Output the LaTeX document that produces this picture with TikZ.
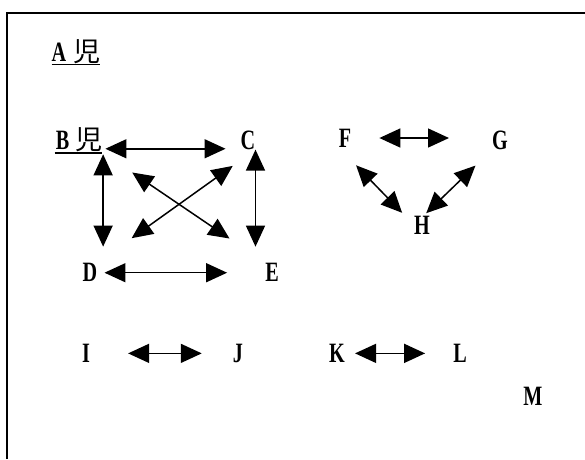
\documentclass[tikz,border=0pt]{standalone}
\usepackage{fontspec, graphicx}
\setmainfont{Liberation Serif}
\newfontfamily\jpfont{Noto Sans CJK JP}
\usetikzlibrary{arrows.meta}
\newcommand{\ltr}[1]{\scalebox{0.72}[1]{\bfseries #1}}
\newcommand{\ji}{{\jpfont\fontsize{27}{29}\selectfont 児}}

\begin{document}
\begin{tikzpicture}[scale=0.3515]
	\tikzstyle{every node}+=[inner sep=0pt, font=\fontsize{28}{30}\selectfont]
	\tikzstyle{dbl}=[black, line width=1.5pt, {Triangle[length=21pt,width=19pt]}-{Triangle[length=21pt,width=19pt]}]
	\useasboundingbox (0,0) rectangle (58.5,-45.9);
	% frame
	\draw [black, line width=1.4pt] (0.7,-45.9) -- (0.7,-1.3) -- (58.5,-1.3);
	% nodes
	\node (A) at (7.6,-5.15) {\ltr{A}\hspace{7pt}\ji};
	\node (B) at (7.9,-14.0) {\ltr{B}\hspace{6pt}\ji};
	\node (C) at (24.8,-14.0) {\ltr{C}};
	\node (D) at (9.0,-27.2) {\ltr{D}};
	\node (E) at (27.2,-27.2) {\ltr{E}};
	\node (F) at (34.5,-13.8) {\ltr{F}};
	\node (G) at (50.0,-14.0) {\ltr{G}};
	\node (H) at (42.2,-22.5) {\ltr{H}};
	\node (I) at (8.6,-35.3) {\ltr{I}};
	\node (J) at (23.8,-35.3) {\ltr{J}};
	\node (K) at (33.7,-35.3) {\ltr{K}};
	\node (L) at (46.0,-35.3) {\ltr{L}};
	\node (M) at (53.3,-39.6) {\ltr{M}};
	% underlines
	\draw [black, line width=1.1pt] ([yshift=-2pt]A.south west) -- ([yshift=-2pt]A.south east);
	\draw [black, line width=1.1pt] ([xshift=-3pt,yshift=-2pt]B.south west) -- ([yshift=-2pt]B.south east);
	% arrows of the square
	\draw [dbl, shorten <=3pt, shorten >=15pt] ([yshift=3pt]B.base east) -- ([yshift=3pt]B.base east -| C.west);
	\draw [dbl, shorten <=2pt, shorten >=16pt] ([xshift=2pt]B.south east) -- ([xshift=2pt]B.south east |- D.north);
	\draw [dbl, shorten <=0pt, shorten >=16pt] (C.south east) -- (C.south east |- E.north);
	\draw [dbl, shorten <=7pt, shorten >=38pt] ([yshift=-2pt]D.east) -- ([yshift=-2pt]D.east -| E.west);
	\draw [dbl, shorten <=36pt, shorten >=43pt] (B.south east) -- (E.north west);
	\draw [dbl, shorten <=28pt, shorten >=42pt] (C.south east) -- (D.north east);
	% triangle
	\draw [dbl, shorten <=28pt, shorten >=43pt] (F.east) -- (F.east -| G.west);
	\draw [dbl, shorten <=25pt, shorten >=17pt] (F.south west) -- (H.west);
	\draw [dbl, shorten <=23pt, shorten >=17pt] (G.south west) -- (H.west);
	% pairs
	\draw [dbl, shorten <=38pt, shorten >=31pt] ([yshift=-1pt]I.east) -- ([yshift=-1pt]I.east -| J.west);
	\draw [dbl, shorten <=10pt, shorten >=28pt] ([yshift=-1pt]K.east) -- ([yshift=-1pt]K.east -| L.west);
\end{tikzpicture}
\end{document}
